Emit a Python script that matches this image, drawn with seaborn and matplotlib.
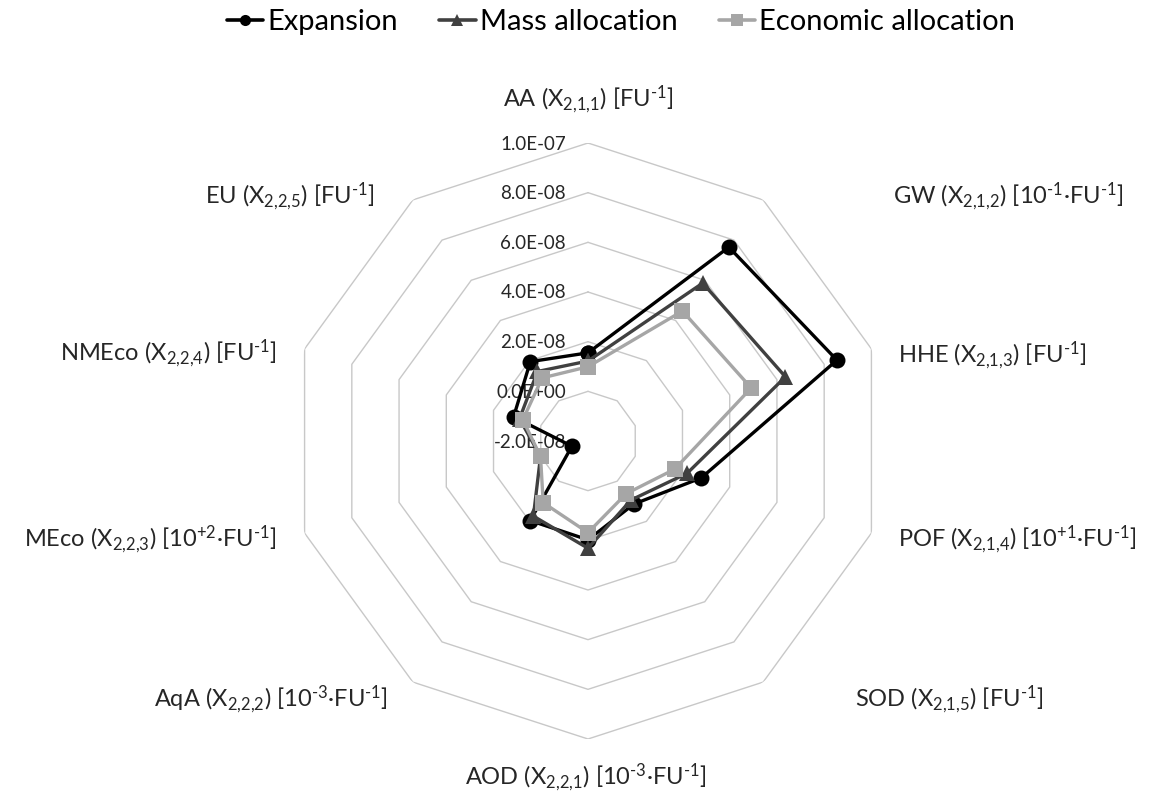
import numpy as np
import pandas as pd
import matplotlib
matplotlib.use("Agg")
import matplotlib.pyplot as plt
import seaborn as sns
from matplotlib.lines import Line2D

# Impact categories (clockwise from the top) and their axis captions
categories = ["AA", "GW", "HHE", "POF", "SOD", "AOD", "AqA", "MEco", "NMEco", "EU"]
axis_labels = [
    r"AA (X$_{2{,}1{,}1}$) [FU$^{\text{-1}}$]",
    r"GW (X$_{2{,}1{,}2}$) [10$^{\text{-1}}$·FU$^{\text{-1}}$]",
    r"HHE (X$_{2{,}1{,}3}$) [FU$^{\text{-1}}$]",
    r"POF (X$_{2{,}1{,}4}$) [10$^{\text{+1}}$·FU$^{\text{-1}}$]",
    r"SOD (X$_{2{,}1{,}5}$) [FU$^{\text{-1}}$]",
    r"AOD (X$_{2{,}2{,}1}$) [10$^{\text{-3}}$·FU$^{\text{-1}}$]",
    r"AqA (X$_{2{,}2{,}2}$) [10$^{\text{-3}}$·FU$^{\text{-1}}$]",
    r"MEco (X$_{2{,}2{,}3}$) [10$^{\text{+2}}$·FU$^{\text{-1}}$]",
    r"NMEco (X$_{2{,}2{,}4}$) [FU$^{\text{-1}}$]",
    r"EU (X$_{2{,}2{,}5}$) [FU$^{\text{-1}}$]",
]

series_names = ["Expansion", "Mass allocation", "Economic allocation"]
expansion = [1.55e-8, 7.65e-8, 8.54e-8, 2.80e-8, 1.14e-8, 1.98e-8, 1.96e-8, -1.32e-8, 1.15e-8, 1.95e-8]
mass_allocation = [1.22e-8, 5.86e-8, 6.36e-8, 2.20e-8, 0.94e-8, 2.32e-8, 1.74e-8, 0.01e-8, 0.90e-8, 1.46e-8]
economic_allocation = [0.99e-8, 4.47e-8, 4.91e-8, 1.67e-8, 0.62e-8, 1.69e-8, 1.07e-8, 0.01e-8, 0.76e-8, 1.14e-8]

ring_values = [-2e-8, 0.0, 2e-8, 4e-8, 6e-8, 8e-8, 1e-7]
ring_labels = ["-2.0E-08", "0.0E+00", "2.0E-08", "4.0E-08", "6.0E-08", "8.0E-08", "1.0E-07"]

FONT = "Lato"
sns.set_theme(style="white")
plt.rcParams["font.family"] = [FONT, "DejaVu Sans"]
plt.rcParams["mathtext.fontset"] = "custom"
plt.rcParams["mathtext.rm"] = FONT
plt.rcParams["mathtext.it"] = FONT
plt.rcParams["mathtext.bf"] = FONT

colors = {"Expansion": "#000000", "Mass allocation": "#404040", "Economic allocation": "#a6a6a6"}
markers = {"Expansion": "o", "Mass allocation": "^", "Economic allocation": "s"}

n = len(categories)
theta = np.linspace(0, 2 * np.pi, n, endpoint=False)
theta_closed = np.append(theta, 2 * np.pi)

rows = []
for name, vals in zip(series_names, [expansion, mass_allocation, economic_allocation]):
    closed = list(vals) + [vals[0]]
    for k, (t, v) in enumerate(zip(theta_closed, closed)):
        rows.append({"series": name, "order": k, "theta": t, "value": v})
df = pd.DataFrame(rows)

fig = plt.figure(figsize=(11.55, 7.98), dpi=100)
cx, cy, rad = 588, 441, 298
W, H = 1155, 798
ax = fig.add_axes([(cx - rad) / W, (H - cy - rad) / H, 2 * rad / W, 2 * rad / H], projection="polar")
ax.set_theta_offset(np.pi / 2)
ax.set_theta_direction(-1)
ax.set_ylim(ring_values[0], ring_values[-1])

# decagonal grid rings
for v in ring_values[1:]:
    ax.plot(theta_closed, [v] * len(theta_closed), color="#c8c8c8", lw=1.0, zorder=0.5)

sns.lineplot(
    data=df, x="theta", y="value", hue="series", style="series",
    hue_order=series_names, style_order=series_names,
    palette=colors, markers=markers, dashes=False, sort=False, estimator=None,
    lw=2.4, ms=11.5, mew=0, legend=False, ax=ax, zorder=3,
)

ax.grid(False)
ax.set_xticks([])
ax.set_yticks([])
ax.spines["polar"].set_visible(False)
ax.set_xlabel("")
ax.set_ylabel("")
ax.patch.set_alpha(0)

# radial value labels along the top axis
for v, lab in zip(ring_values, ring_labels):
    ax.annotate(lab, xy=(0, v), xytext=(-22, -1), textcoords="offset pixels",
                ha="right", va="center", fontsize=13.5, color="#262626", zorder=1)

# axis captions around the outer ring (offsets in pixels, baseline anchored)
label_offsets = [(0, 36, "center"), (130, -4, "left"), (27, -14, "left"), (27, -14, "left"),
                 (92, -25, "left"), (-2, -46, "center"), (-25, -25, "right"), (-28, -14, "right"),
                 (-28, -12, "right"), (-38, -4, "right")]
for t, lab, (dx, dy, ha) in zip(theta, axis_labels, label_offsets):
    ax.annotate(lab, xy=(t, ring_values[-1]), xytext=(dx, dy), textcoords="offset pixels",
                ha=ha, va="baseline", fontsize=17, color="#262626", annotation_clip=False)

handles = [Line2D([0], [0], color=colors[s], marker=markers[s], lw=2.6, ms=8, mew=0) for s in series_names]
fig.legend(handles, series_names, loc="center", bbox_to_anchor=(621 / W, 1 - 22 / H), ncol=3,
           frameon=False, fontsize=21, handlelength=1.25, handletextpad=0.15, columnspacing=1.4,
           labelcolor="#000000")

fig.savefig("out.png", dpi=100, facecolor="white")
